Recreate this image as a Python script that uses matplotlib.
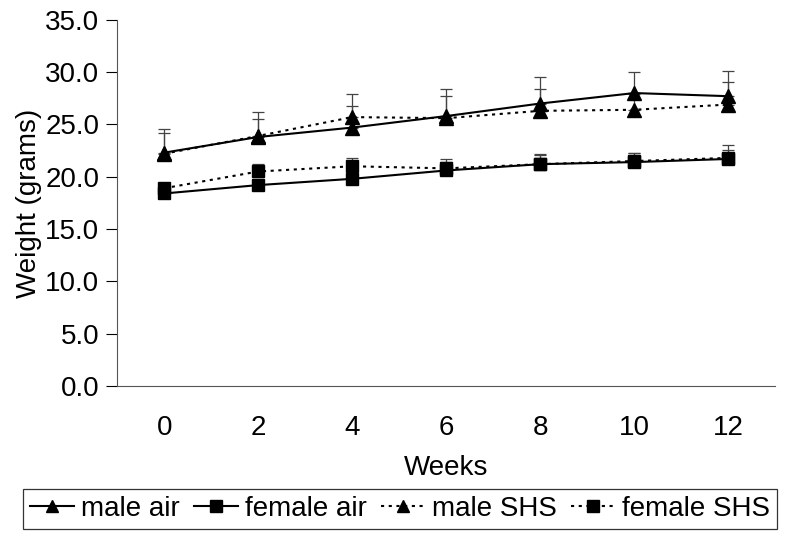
import matplotlib.pyplot as plt

plt.rcParams["font.family"] = ["Liberation Sans", "DejaVu Sans"]

# Data
weeks = [0, 2, 4, 6, 8, 10, 12]

male_air = [22.3, 23.8, 24.7, 25.8, 27.0, 28.0, 27.7]
male_air_err = [2.3, 2.4, 2.1, 2.6, 2.5, 2.0, 2.4]

female_air = [18.4, 19.2, 19.8, 20.6, 21.2, 21.4, 21.7]
female_air_err = [0.6, 0.6, 0.7, 0.8, 1.0, 0.9, 1.3]

male_shs = [22.2, 23.9, 25.7, 25.6, 26.3, 26.4, 26.9]
male_shs_err = [2.0, 1.6, 2.2, 2.1, 2.1, 1.5, 2.2]

female_shs = [18.9, 20.5, 21.0, 20.8, 21.2, 21.5, 21.8]
female_shs_err = [0.5, 0.7, 0.8, 0.9, 0.9, 0.8, 0.8]

yticks = [0, 5, 10, 15, 20, 25, 30, 35]

FS = 20

fig = plt.figure(figsize=(7.92, 5.36), dpi=100)
ax = fig.add_axes([0.148, 0.280, 0.831, 0.683])

dotted = (0, (1.5, 2.2))
series = [
    ("male air", male_air, male_air_err, "^", "-"),
    ("female air", female_air, female_air_err, "s", "-"),
    ("male SHS", male_shs, male_shs_err, "^", dotted),
    ("female SHS", female_shs, female_shs_err, "s", dotted),
]

for label, vals, err, mk, ls in series:
    ax.errorbar(weeks, vals, yerr=[[0] * len(err), err], fmt="none",
                ecolor="#444444", elinewidth=0.9, capsize=4, capthick=0.9, zorder=2)
for label, vals, err, mk, ls in series:
    ms = 10 if mk == "^" else 9
    ax.plot(weeks, vals, color="black", linestyle=ls, linewidth=1.5,
            marker=mk, markersize=ms, markerfacecolor="black",
            markeredgecolor="black", label=label, zorder=3)

ax.set_xlim(-1, 13)
ax.set_ylim(0, 35)
ax.set_xticks(weeks)
ax.set_yticks(yticks)
ax.set_yticklabels([f"{v:.1f}" for v in yticks])
ax.tick_params(axis="x", length=0, labelsize=FS, pad=21)
ax.tick_params(axis="y", length=8, width=0.8, labelsize=FS, pad=5, direction="out")
ax.spines["top"].set_visible(False)
ax.spines["right"].set_visible(False)
ax.spines["left"].set_color("#555555")
ax.spines["bottom"].set_color("#555555")
ax.set_xlabel("Weeks", fontsize=FS, labelpad=10)
ax.set_ylabel("Weight (grams)", fontsize=FS, labelpad=2)

leg = fig.legend(loc="lower center", bbox_to_anchor=(0.505, 0.013), ncol=4,
                 fontsize=FS, frameon=True, fancybox=False, edgecolor="black",
                 handlelength=1.6, handletextpad=0.25, columnspacing=0.5,
                 borderpad=0.25, borderaxespad=0)
leg.get_frame().set_linewidth(0.9)
for h in leg.legend_handles:
    h.set_markersize(8)

fig.savefig("out.png", dpi=100)
